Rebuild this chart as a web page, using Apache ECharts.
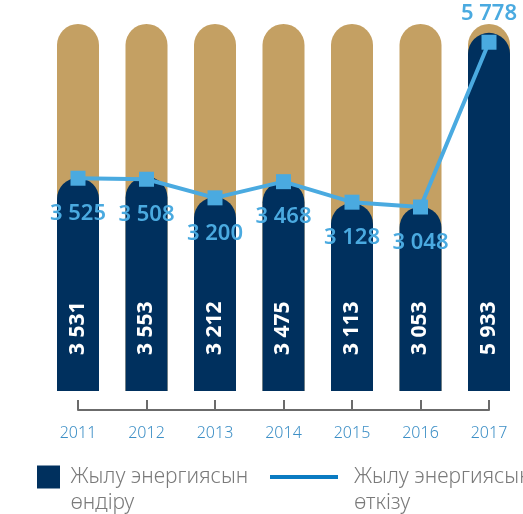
<!DOCTYPE html>
<html>
<head>
<meta charset="utf-8">
<script src="https://cdn.jsdelivr.net/npm/echarts@6/dist/echarts.min.js"></script>
<style>
html, body { margin: 0; padding: 0; background: #fff; }
#chart { width: 523px; height: 514px; }
</style>
</head>
<body>
<div id="chart"></div>
<script>
const years = ['2011', '2012', '2013', '2014', '2015', '2016', '2017'];
const production = [3531, 3553, 3212, 3475, 3113, 3053, 5933];
const transmission = [3525, 3508, 3200, 3468, 3128, 3048, 5778];
const prodName = 'Жылу энергиясын\nөндіру';
const transName = 'Жылу энергиясын\nөткізу';

// пробел как разделитель тысяч
function fmt(v) {
    return String(v).replace(/\B(?=(\d{3})+(?!\d))/g, ' ');
}

// пустая первая строка, чтобы значок стоял напротив первой строки текста
function legendFmt(indent) {
    return (name) => ' \n' + name.split('\n').map((s) => indent + s).join('\n');
}

let myChart = echarts.init(document.getElementById('chart'));
let fontFamily = '"Noto Sans", "Open Sans", sans-serif';

let legendText = {
    color: '#7a7a7a',
    fontSize: 21,
    fontWeight: 300,
    lineHeight: 26,
};

let option = {
    animation: false,
    textStyle: { fontFamily: fontFamily },
    grid: {
        left: 78,
        right: 34,
        top: 24,
        bottom: 123,
        containLabel: false,
    },
    legend: [
        {
            data: [prodName],
            left: 37,
            top: 438,
            padding: 0,
            icon: 'rect',
            itemWidth: 23,
            itemHeight: 23,
            formatter: legendFmt(' '),
            textStyle: legendText,
        },
        {
            data: [transName],
            left: 270,
            top: 438,
            padding: 0,
            icon: 'path://M0,0 H68 V4 H0 Z',
            itemWidth: 68,
            itemHeight: 4,
            itemStyle: { color: '#0a7bc2' },
            lineStyle: { color: '#0a7bc2', width: 0 },
            formatter: legendFmt('  '),
            textStyle: legendText,
        },
    ],
    xAxis: {
        type: 'category',
        data: years,
        boundaryGap: false,
        offset: 19,
        axisLine: { show: true, onZero: false, lineStyle: { color: '#6b6b6b', width: 2 } },
        axisTick: { show: true, inside: true, length: 10, lineStyle: { color: '#6b6b6b', width: 2 } },
        axisLabel: {
            color: '#3d8fc6',
            fontSize: 16,
            fontWeight: 300,
            margin: 15,
        },
    },
    yAxis: {
        type: 'value',
        min: 0,
        max: 6080,
        show: false,
        splitLine: { show: false },
    },
    series: [
        {
            name: prodName,
            type: 'bar',
            data: production,
            barWidth: 42,
            clip: false,
            showBackground: true,
            backgroundStyle: {
                color: '#c4a063',
                borderRadius: [21, 21, 0, 0],
            },
            itemStyle: {
                color: '#00305e',
                borderRadius: [21, 21, 0, 0],
            },
            label: {
                show: true,
                position: 'insideBottom',
                distance: 36,
                rotate: 90,
                align: 'left',
                verticalAlign: 'middle',
                color: '#fff',
                fontSize: 21,
                fontWeight: 'bold',
                formatter: (p) => fmt(p.value),
            },
        },
        {
            name: transName,
            type: 'line',
            data: transmission,
            z: 5,
            symbol: 'rect',
            symbolSize: 15,
            lineStyle: { color: '#4aaae0', width: 4 },
            itemStyle: { color: '#4aaae0' },
            label: {
                show: true,
                position: 'bottom',
                distance: 17,
                color: '#4aaae0',
                fontSize: 22,
                fontWeight: 600,
                formatter: (p) => fmt(p.value),
            },
        },
    ],
};

// подпись 2017 года над точкой
option.series[1].data = transmission.map((v, i) =>
    i === transmission.length - 1 ? { value: v, label: { position: 'top', distance: 10 } } : v
);

myChart.setOption(option);
window.addEventListener('resize', function () {
    myChart.resize();
});
</script>
</body>
</html>
